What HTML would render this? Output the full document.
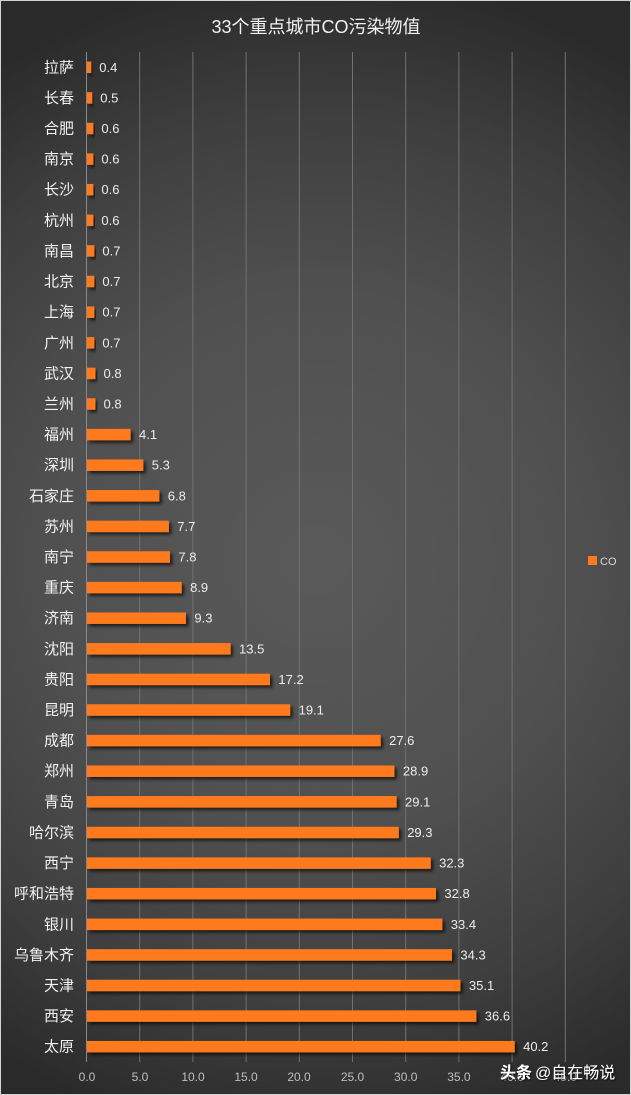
<!DOCTYPE html>
<html><head><meta charset="utf-8"><style>
html,body{margin:0;padding:0;background:#2a2a2a;}
svg{display:block;}
.c{font-family:"Liberation Sans","Noto Sans CJK SC",sans-serif;font-size:15px;fill:#f2f2f2;text-anchor:end;}
.v{font-family:"Liberation Sans",sans-serif;font-size:13px;fill:#ececec;}
.t{font-family:"Liberation Sans",sans-serif;font-size:12px;fill:#bfbfbf;text-anchor:middle;}
.b{fill:#ff7a1e;}
</style></head><body>
<svg width="631" height="1095" viewBox="0 0 631 1095" xmlns="http://www.w3.org/2000/svg">
<defs>
<radialGradient id="bg" gradientUnits="userSpaceOnUse" cx="316" cy="560" r="590" fx="316" fy="560">
<stop offset="0" stop-color="#5a5a5a"/>
<stop offset="0.45" stop-color="#505050"/>
<stop offset="0.75" stop-color="#3f3f3f"/>
<stop offset="1" stop-color="#2a2a2a"/>
</radialGradient>
<filter id="sh" x="-10%" y="-50%" width="130%" height="250%">
<feDropShadow dx="2.5" dy="2.5" stdDeviation="1.5" flood-color="#000" flood-opacity="0.65"/>
</filter>
<filter id="ws" x="-10%" y="-30%" width="130%" height="160%">
<feDropShadow dx="1" dy="1" stdDeviation="1" flood-color="#000" flood-opacity="0.8"/>
</filter>
</defs>
<rect x="0" y="0" width="631" height="1095" fill="url(#bg)"/>
<rect x="0.5" y="0.5" width="630" height="1094" fill="none" stroke="#d4d4d4" stroke-width="1"/>
<text x="316" y="33" style="font-family:'Liberation Sans','Noto Sans CJK SC',sans-serif;font-size:18px;fill:#f2f2f2;text-anchor:middle;">33个重点城市CO污染物值</text>
<g stroke="#727272" stroke-width="1">
<line x1="139.7" y1="52" x2="139.7" y2="1062"/>
<line x1="192.9" y1="52" x2="192.9" y2="1062"/>
<line x1="246.1" y1="52" x2="246.1" y2="1062"/>
<line x1="299.3" y1="52" x2="299.3" y2="1062"/>
<line x1="352.5" y1="52" x2="352.5" y2="1062"/>
<line x1="405.7" y1="52" x2="405.7" y2="1062"/>
<line x1="458.9" y1="52" x2="458.9" y2="1062"/>
<line x1="512.1" y1="52" x2="512.1" y2="1062"/>
<line x1="565.3" y1="52" x2="565.3" y2="1062"/>
</g>
<line x1="86.5" y1="52" x2="86.5" y2="1062" stroke="#8a8a8a" stroke-width="1"/>
<g>
<text class="t" x="87" y="1081">0.0</text>
<text class="t" x="140" y="1081">5.0</text>
<text class="t" x="193" y="1081">10.0</text>
<text class="t" x="246" y="1081">15.0</text>
<text class="t" x="299" y="1081">20.0</text>
<text class="t" x="352.5" y="1081">25.0</text>
<text class="t" x="405.7" y="1081">30.0</text>
<text class="t" x="458.9" y="1081">35.0</text>
<text class="t" x="512.1" y="1081">40.0</text>
<text class="t" x="565.3" y="1081">45.0</text>
</g>
<g>
<g transform="translate(0,67.3)"><text class="c" x="74" y="5">拉萨</text><rect class="b" filter="url(#sh)" x="87" y="-5.75" width="4.3" height="11.5"/><text class="v" x="99.3" y="4.5">0.4</text></g>
<g transform="translate(0,97.9)"><text class="c" x="74" y="5">长春</text><rect class="b" filter="url(#sh)" x="87" y="-5.75" width="5.3" height="11.5"/><text class="v" x="100.3" y="4.5">0.5</text></g>
<g transform="translate(0,128.5)"><text class="c" x="74" y="5">合肥</text><rect class="b" filter="url(#sh)" x="87" y="-5.75" width="6.4" height="11.5"/><text class="v" x="101.4" y="4.5">0.6</text></g>
<g transform="translate(0,159.1)"><text class="c" x="74" y="5">南京</text><rect class="b" filter="url(#sh)" x="87" y="-5.75" width="6.4" height="11.5"/><text class="v" x="101.4" y="4.5">0.6</text></g>
<g transform="translate(0,189.7)"><text class="c" x="74" y="5">长沙</text><rect class="b" filter="url(#sh)" x="87" y="-5.75" width="6.4" height="11.5"/><text class="v" x="101.4" y="4.5">0.6</text></g>
<g transform="translate(0,220.3)"><text class="c" x="74" y="5">杭州</text><rect class="b" filter="url(#sh)" x="87" y="-5.75" width="6.4" height="11.5"/><text class="v" x="101.4" y="4.5">0.6</text></g>
<g transform="translate(0,250.9)"><text class="c" x="74" y="5">南昌</text><rect class="b" filter="url(#sh)" x="87" y="-5.75" width="7.4" height="11.5"/><text class="v" x="102.4" y="4.5">0.7</text></g>
<g transform="translate(0,281.5)"><text class="c" x="74" y="5">北京</text><rect class="b" filter="url(#sh)" x="87" y="-5.75" width="7.4" height="11.5"/><text class="v" x="102.4" y="4.5">0.7</text></g>
<g transform="translate(0,312.2)"><text class="c" x="74" y="5">上海</text><rect class="b" filter="url(#sh)" x="87" y="-5.75" width="7.4" height="11.5"/><text class="v" x="102.4" y="4.5">0.7</text></g>
<g transform="translate(0,342.8)"><text class="c" x="74" y="5">广州</text><rect class="b" filter="url(#sh)" x="87" y="-5.75" width="7.4" height="11.5"/><text class="v" x="102.4" y="4.5">0.7</text></g>
<g transform="translate(0,373.4)"><text class="c" x="74" y="5">武汉</text><rect class="b" filter="url(#sh)" x="87" y="-5.75" width="8.5" height="11.5"/><text class="v" x="103.5" y="4.5">0.8</text></g>
<g transform="translate(0,404.0)"><text class="c" x="74" y="5">兰州</text><rect class="b" filter="url(#sh)" x="87" y="-5.75" width="8.5" height="11.5"/><text class="v" x="103.5" y="4.5">0.8</text></g>
<g transform="translate(0,434.6)"><text class="c" x="74" y="5">福州</text><rect class="b" filter="url(#sh)" x="87" y="-5.75" width="43.6" height="11.5"/><text class="v" x="139" y="4.5">4.1</text></g>
<g transform="translate(0,465.2)"><text class="c" x="74" y="5">深圳</text><rect class="b" filter="url(#sh)" x="87" y="-5.75" width="56.4" height="11.5"/><text class="v" x="151.8" y="4.5">5.3</text></g>
<g transform="translate(0,495.8)"><text class="c" x="74" y="5">石家庄</text><rect class="b" filter="url(#sh)" x="87" y="-5.75" width="72.4" height="11.5"/><text class="v" x="167.8" y="4.5">6.8</text></g>
<g transform="translate(0,526.4)"><text class="c" x="74" y="5">苏州</text><rect class="b" filter="url(#sh)" x="87" y="-5.75" width="81.9" height="11.5"/><text class="v" x="177.3" y="4.5">7.7</text></g>
<g transform="translate(0,557.0)"><text class="c" x="74" y="5">南宁</text><rect class="b" filter="url(#sh)" x="87" y="-5.75" width="83.0" height="11.5"/><text class="v" x="178.4" y="4.5">7.8</text></g>
<g transform="translate(0,587.6)"><text class="c" x="74" y="5">重庆</text><rect class="b" filter="url(#sh)" x="87" y="-5.75" width="94.7" height="11.5"/><text class="v" x="190.1" y="4.5">8.9</text></g>
<g transform="translate(0,618.2)"><text class="c" x="74" y="5">济南</text><rect class="b" filter="url(#sh)" x="87" y="-5.75" width="99.0" height="11.5"/><text class="v" x="194.4" y="4.5">9.3</text></g>
<g transform="translate(0,648.8)"><text class="c" x="74" y="5">沈阳</text><rect class="b" filter="url(#sh)" x="87" y="-5.75" width="143.6" height="11.5"/><text class="v" x="239" y="4.5">13.5</text></g>
<g transform="translate(0,679.4)"><text class="c" x="74" y="5">贵阳</text><rect class="b" filter="url(#sh)" x="87" y="-5.75" width="183.0" height="11.5"/><text class="v" x="278.4" y="4.5">17.2</text></g>
<g transform="translate(0,710.0)"><text class="c" x="74" y="5">昆明</text><rect class="b" filter="url(#sh)" x="87" y="-5.75" width="203.2" height="11.5"/><text class="v" x="298.6" y="4.5">19.1</text></g>
<g transform="translate(0,740.6)"><text class="c" x="74" y="5">成都</text><rect class="b" filter="url(#sh)" x="87" y="-5.75" width="293.7" height="11.5"/><text class="v" x="389.1" y="4.5">27.6</text></g>
<g transform="translate(0,771.2)"><text class="c" x="74" y="5">郑州</text><rect class="b" filter="url(#sh)" x="87" y="-5.75" width="307.5" height="11.5"/><text class="v" x="402.9" y="4.5">28.9</text></g>
<g transform="translate(0,801.8)"><text class="c" x="74" y="5">青岛</text><rect class="b" filter="url(#sh)" x="87" y="-5.75" width="309.6" height="11.5"/><text class="v" x="405" y="4.5">29.1</text></g>
<g transform="translate(0,832.5)"><text class="c" x="74" y="5">哈尔滨</text><rect class="b" filter="url(#sh)" x="87" y="-5.75" width="311.8" height="11.5"/><text class="v" x="407.2" y="4.5">29.3</text></g>
<g transform="translate(0,863.1)"><text class="c" x="74" y="5">西宁</text><rect class="b" filter="url(#sh)" x="87" y="-5.75" width="343.7" height="11.5"/><text class="v" x="439.1" y="4.5">32.3</text></g>
<g transform="translate(0,893.7)"><text class="c" x="74" y="5">呼和浩特</text><rect class="b" filter="url(#sh)" x="87" y="-5.75" width="349.0" height="11.5"/><text class="v" x="444.4" y="4.5">32.8</text></g>
<g transform="translate(0,924.3)"><text class="c" x="74" y="5">银川</text><rect class="b" filter="url(#sh)" x="87" y="-5.75" width="355.4" height="11.5"/><text class="v" x="450.8" y="4.5">33.4</text></g>
<g transform="translate(0,954.9)"><text class="c" x="74" y="5">乌鲁木齐</text><rect class="b" filter="url(#sh)" x="87" y="-5.75" width="365.0" height="11.5"/><text class="v" x="460.4" y="4.5">34.3</text></g>
<g transform="translate(0,985.5)"><text class="c" x="74" y="5">天津</text><rect class="b" filter="url(#sh)" x="87" y="-5.75" width="373.5" height="11.5"/><text class="v" x="468.9" y="4.5">35.1</text></g>
<g transform="translate(0,1016.1)"><text class="c" x="74" y="5">西安</text><rect class="b" filter="url(#sh)" x="87" y="-5.75" width="389.4" height="11.5"/><text class="v" x="484.8" y="4.5">36.6</text></g>
<g transform="translate(0,1046.7)"><text class="c" x="74" y="5">太原</text><rect class="b" filter="url(#sh)" x="87" y="-5.75" width="427.7" height="11.5"/><text class="v" x="523.1" y="4.5">40.2</text></g>
</g>
<rect x="588" y="556" width="9" height="9" fill="#ff7a1e"/>
<text x="600" y="565" style="font-family:'Liberation Sans',sans-serif;font-size:11px;fill:#d9d9d9;">CO</text>
<g filter="url(#ws)">
<text x="500" y="1078" style="font-family:'Liberation Sans','Noto Sans CJK SC',sans-serif;font-size:16px;fill:#ffffff;"><tspan font-weight="bold">头条</tspan><tspan dx="3">@自在畅说</tspan></text>
</g>
</svg>
</body></html>
